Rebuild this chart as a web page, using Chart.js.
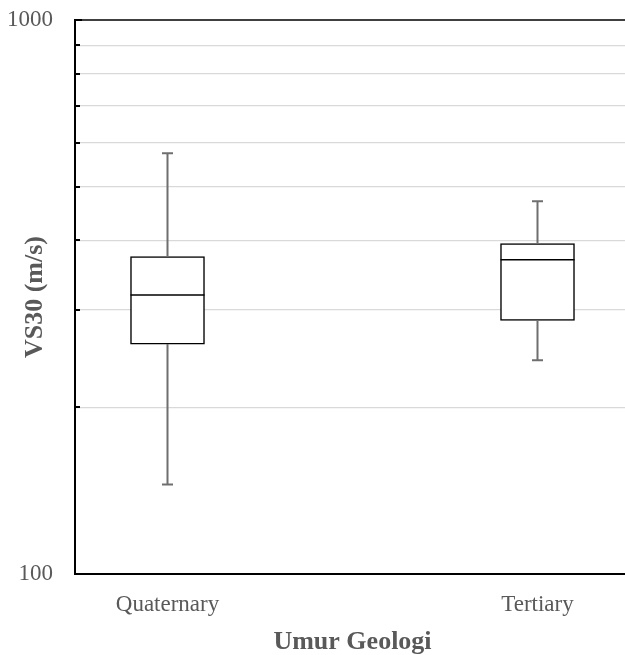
<!DOCTYPE html>
<html>
<head>
<meta charset="utf-8">
<script src="https://cdn.jsdelivr.net/npm/chart.js@4/dist/chart.umd.min.js"></script>
<style>
  html, body { margin: 0; padding: 0; overflow: hidden; background: #fff; }
  #wrap { position: relative; width: 640px; height: 655px; }
</style>
</head>
<body>
<div id="wrap"><canvas id="boxChart"></canvas></div>
<script>
// VS30 spread per geology age
const categories = ["Quaternary", "Tertiary"];
const whiskerLow = [145, 243];
const q1 = [260, 287];
const median = [319, 369];
const q3 = [374, 395];
const whiskerHigh = [575, 471];

const yTicks = [100, 200, 300, 400, 500, 600, 700, 800, 900, 1000];
const yLabeled = [100, 1000];

const textGray = "#595959";
const serif = "'Liberation Serif', 'Times New Roman', serif";
const boxWidth = 74;

// whiskers, medians and the small inner tick marks on the value axis
const boxExtras = {
  id: "boxExtras",
  afterDatasetsDraw(chart) {
    const { ctx, scales: { x, y }, chartArea } = chart;
    ctx.save();

    categories.forEach((cat, i) => {
      const px = x.getPixelForValue(i + 1);
      const top = y.getPixelForValue(whiskerHigh[i]);
      const bottom = y.getPixelForValue(whiskerLow[i]);
      const boxTop = y.getPixelForValue(q3[i]);
      const boxBottom = y.getPixelForValue(q1[i]);

      ctx.strokeStyle = "#6f6f6f";
      ctx.lineWidth = 2;
      ctx.beginPath();
      ctx.moveTo(px, top);
      ctx.lineTo(px, boxTop);
      ctx.moveTo(px, boxBottom);
      ctx.lineTo(px, bottom);
      ctx.moveTo(px - 5.5, top);
      ctx.lineTo(px + 5.5, top);
      ctx.moveTo(px - 5.5, bottom);
      ctx.lineTo(px + 5.5, bottom);
      ctx.stroke();

      const med = y.getPixelForValue(median[i]);
      ctx.strokeStyle = "#000";
      ctx.lineWidth = 1.5;
      ctx.beginPath();
      ctx.moveTo(px - boxWidth / 2, med);
      ctx.lineTo(px + boxWidth / 2, med);
      ctx.stroke();
    });

    ctx.strokeStyle = "#000";
    ctx.lineWidth = 2;
    yTicks.forEach(v => {
      const py = Math.round(y.getPixelForValue(v));
      const major = yLabeled.includes(v);
      ctx.beginPath();
      ctx.moveTo(chartArea.left - (major ? 1 : 0), py);
      ctx.lineTo(chartArea.left + (major ? 7 : 5), py);
      ctx.stroke();
    });

    ctx.restore();
  }
};

new Chart(document.getElementById("boxChart"), {
  type: "bar",
  data: {
    datasets: [{
      data: categories.map((c, i) => ({ x: i + 1, y: [q1[i], q3[i]] })),
      backgroundColor: "#fff",
      borderColor: "#000",
      borderWidth: 1.5,
      borderSkipped: false,
      barThickness: boxWidth
    }]
  },
  options: {
    responsive: true,
    maintainAspectRatio: false,
    devicePixelRatio: 1,
    animation: false,
    layout: { padding: { top: 20, right: 10, left: 0, bottom: 0 } },
    plugins: { legend: { display: false }, tooltip: { enabled: false } },
    scales: {
      x: {
        type: "linear",
        offset: false,
        min: 0.75,
        max: 2.25,
        afterBuildTicks: scale => {
          scale.ticks = categories.map((c, i) => ({ value: i + 1 }));
        },
        afterFit: scale => {
          scale.height = 81;
          scale.paddingLeft = 0;
          scale.paddingRight = 0;
        },
        grid: { display: false, drawTicks: false, offset: false },
        border: { color: "#000", width: 2 },
        ticks: {
          padding: 17,
          maxRotation: 0,
          color: textGray,
          font: { family: serif, size: 23 },
          callback: (value, index) => categories[index]
        },
        title: {
          display: true,
          text: "Umur Geologi",
          color: textGray,
          font: { family: serif, size: 26, weight: "bold", lineHeight: 1 },
          padding: { top: 0, bottom: 0 }
        }
      },
      y: {
        type: "logarithmic",
        min: 100,
        max: 1000,
        afterBuildTicks: scale => {
          scale.ticks = yTicks.map(v => ({ value: v }));
        },
        afterFit: scale => {
          scale.width = 75;
          scale.paddingTop = 0;
          scale.paddingBottom = 0;
        },
        grid: {
          drawTicks: false,
          color: ctx => {
            const v = ctx.tick && ctx.tick.value;
            if (v === 100) return "rgba(0,0,0,0)";
            return v === 1000 ? "#404040" : "#d9d9d9";
          },
          lineWidth: ctx => (ctx.tick && ctx.tick.value === 1000 ? 2 : 1.2)
        },
        border: { color: "#000", width: 2 },
        ticks: {
          padding: 22,
          color: textGray,
          font: { family: serif, size: 23 },
          autoSkip: false,
          callback: value => (yLabeled.includes(value) ? String(value) : "")
        },
        title: {
          display: true,
          text: "VS30 (m/s)",
          color: textGray,
          font: { family: serif, size: 26, weight: "bold" },
          padding: { top: 20, bottom: 0 }
        }
      }
    }
  },
  plugins: [boxExtras]
});
</script>
</body>
</html>
